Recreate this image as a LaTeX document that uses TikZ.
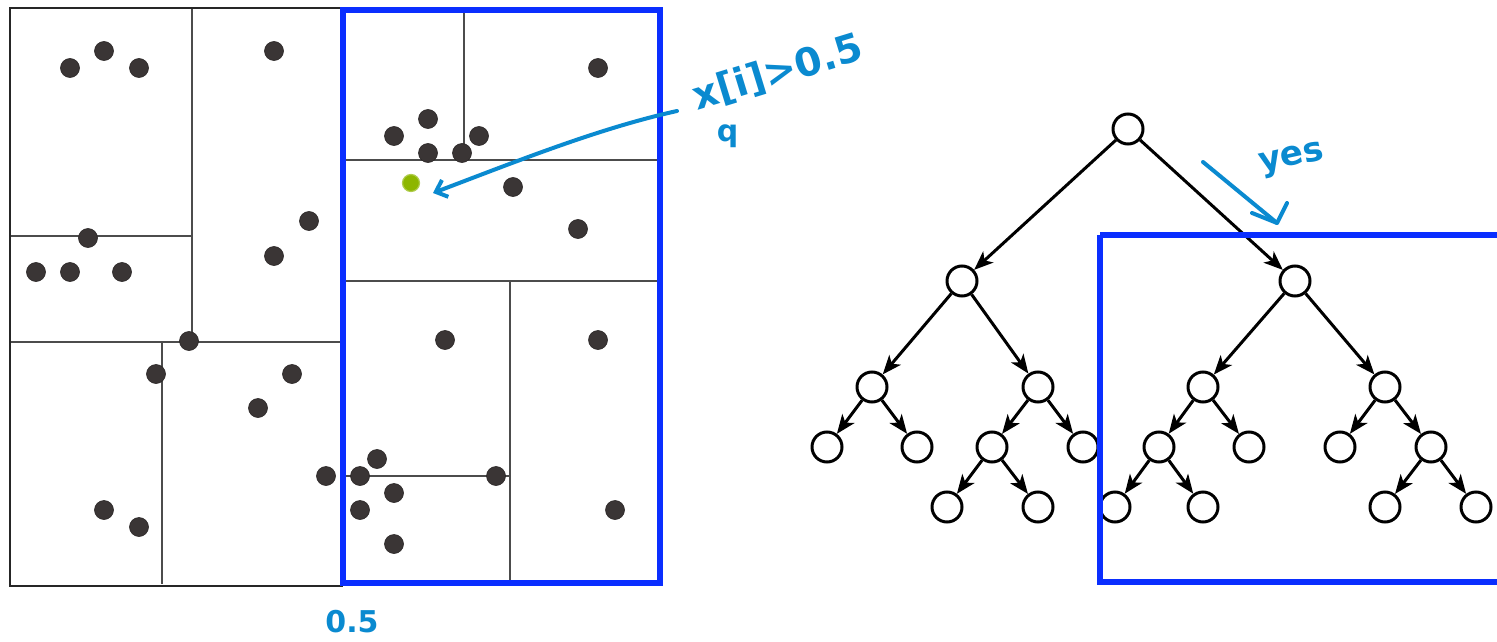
\documentclass[tikz,border=0pt]{standalone}
\usepackage{fontspec}
\setsansfont{DejaVu Sans}
\usetikzlibrary{arrows.meta}
\definecolor{boxblue}{HTML}{0A2EFF}
\definecolor{inkblue}{HTML}{0A8AD0}
\definecolor{dotgray}{HTML}{3A3535}
\definecolor{dotgreen}{HTML}{8DB600}
\tikzset{
  pt/.style={circle,fill=dotgray,draw=dotgray!70!black,line width=0.6pt,inner sep=0pt,minimum size=19pt},
  qpt/.style={circle,fill=dotgreen,draw=dotgreen!70!white,line width=1.2pt,inner sep=0pt,minimum size=17pt},
  split/.style={draw=black!70,line width=2.2pt},
  frame/.style={draw=black!85,line width=2.6pt},
  bluebox/.style={draw=boxblue,line width=6pt},
  tn/.style={circle,draw=black,line width=3pt,inner sep=0pt,minimum size=30pt},
  te/.style={-{Stealth[length=19pt,width=15pt,inset=5pt]},line width=3pt},
  ink/.style={text=inkblue,font=\sffamily\bfseries},
  inkline/.style={draw=inkblue,line width=4pt,line cap=round,line join=round}
}
\begin{document}
\begin{tikzpicture}[x=1pt,y=-1pt]
\useasboundingbox (0,0) rectangle (1497,642);
\fill[white] (0,0) rectangle (1497,642);
% left panel splits
\draw[split] (192,8) -- (192,342);
\draw[split] (10,236) -- (192,236);
\draw[split] (10,342) -- (343,342);
\draw[split] (162,342) -- (162,584);
\draw[split] (464,8) -- (464,160);
\draw[split] (343,160) -- (660,160);
\draw[split] (343,281) -- (660,281);
\draw[split] (510,281) -- (510,584);
\draw[split] (343,476) -- (510,476);
\draw[frame] (343,8) -- (10,8) -- (10,586) -- (343,586);
\draw[bluebox] (343,10) rectangle (660,583);
% points
\node[pt] (a1) at (70,68) {};
\node[pt] (a2) at (104,51) {};
\node[pt] (a3) at (139,68) {};
\node[pt] (a4) at (274,51) {};
\node[pt] (a5) at (309,221) {};
\node[pt] (a6) at (274,256) {};
\node[pt] (a7) at (88,238) {};
\node[pt] (a8) at (36,272) {};
\node[pt] (a9) at (70,272) {};
\node[pt] (a10) at (122,272) {};
\node[pt] (a11) at (189,341) {};
\node[pt] (a12) at (156,374) {};
\node[pt] (a13) at (292,374) {};
\node[pt] (a14) at (258,408) {};
\node[pt] (a15) at (326,476) {};
\node[pt] (a16) at (104,510) {};
\node[pt] (a17) at (139,527) {};
\node[pt] (b1) at (598,68) {};
\node[pt] (b2) at (428,119) {};
\node[pt] (b3) at (394,136) {};
\node[pt] (b4) at (479,136) {};
\node[pt] (b5) at (428,153) {};
\node[pt] (b6) at (462,153) {};
\node[pt] (b7) at (513,187) {};
\node[pt] (b8) at (578,229) {};
\node[pt] (b9) at (445,340) {};
\node[pt] (b10) at (598,340) {};
\node[pt] (b11) at (377,459) {};
\node[pt] (b12) at (360,476) {};
\node[pt] (b13) at (496,476) {};
\node[pt] (b14) at (394,493) {};
\node[pt] (b15) at (360,510) {};
\node[pt] (b16) at (394,544) {};
\node[pt] (b17) at (615,510) {};
\node[qpt] (q) at (411,183) {};
% annotation left
\node[ink,font=\sffamily\bfseries\fontsize{30}{30}\selectfont] (half) at (352,622) {0.5};
\node[ink,font=\sffamily\bfseries\fontsize{39}{39}\selectfont,rotate=17,anchor=west,inner sep=0pt] (cond) at (700,119)
  {x\rlap{\kern-0.45em\rotatebox{-17}{\raisebox{-0.95em}{\fontsize{30}{30}\selectfont q}}}[i]>0.5};
\coordinate (arrs) at (677,111);
\coordinate (arre) at (433,193);
\draw[inkline,-{Straight Barb[length=10pt,width=18pt]}] (arrs) .. controls (600,128) and (520,160) .. (arre);
% tree
\node[tn] (r) at (1128,129) {};
\node[tn] (l) at (962,281) {};
\node[tn] (rr) at (1295,281) {};
\node[tn] (ll) at (872,387) {};
\node[tn] (lr) at (1038,387) {};
\node[tn] (rl) at (1203,387) {};
\node[tn] (rrr) at (1385,387) {};
\node[tn] (lll) at (827,447) {};
\node[tn] (llr) at (917,447) {};
\node[tn] (lrl) at (992,447) {};
\node[tn] (lrr) at (1083,447) {};
\node[tn] (rll) at (1159,447) {};
\node[tn] (rlr) at (1249,447) {};
\node[tn] (rrl) at (1340,447) {};
\node[tn] (rrrr) at (1431,447) {};
\node[tn] (lrll) at (947,507) {};
\node[tn] (lrlr) at (1038,507) {};
\node[tn] (rlll) at (1115,507) {};
\node[tn] (rllr) at (1203,507) {};
\node[tn] (rrrl) at (1385,507) {};
\node[tn] (rrrrr) at (1476,507) {};
\foreach \a/\b in {r/l,r/rr,l/ll,l/lr,rr/rl,rr/rrr,ll/lll,ll/llr,lr/lrl,lr/lrr,rl/rll,rl/rlr,rrr/rrl,rrr/rrrr,lrl/lrll,lrl/lrlr,rll/rlll,rll/rllr,rrrr/rrrl,rrrr/rrrrr}
  \draw[te] (\a) -- (\b);
\draw[bluebox] (1100,235) -- (1100,582) -- (1500,582);
\draw[bluebox] (1100,235) -- (1500,235);
% yes
\node[ink,font=\sffamily\bfseries\fontsize{34}{34}\selectfont,rotate=12] (yes) at (1292,160) {yes};
\coordinate (ys) at (1203,162);
\coordinate (ye) at (1277,223);
\draw[inkline] (ys) -- (ye);
\draw[inkline] (1252,213) -- (ye) -- (1287,203);
\end{tikzpicture}
\end{document}
